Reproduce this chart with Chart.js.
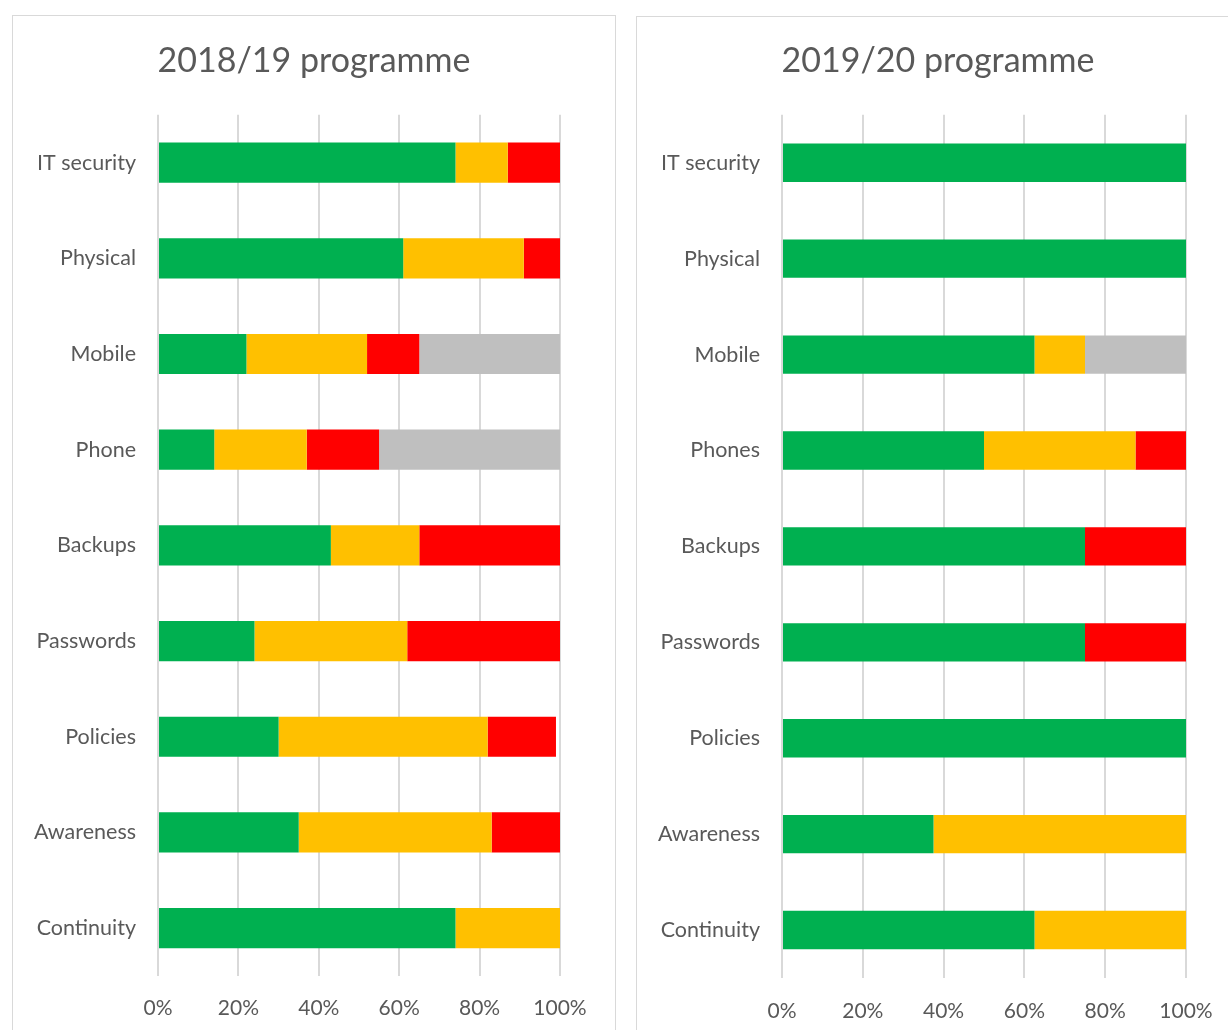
<!DOCTYPE html>
<html>
<head>
<meta charset="utf-8">
<script src="https://cdn.jsdelivr.net/npm/chart.js@4.4.1/dist/chart.umd.min.js"></script>
<style>
  body { margin: 0; background: #fff; overflow: hidden; width: 1228px; height: 1030px; position: relative; }
  .panel { position: absolute; border: 1px solid #d9d9d9; background: #fff; width: 602px; height: 1040px; }
  #left { left: 12px; top: 15px; }
  #right { left: 636px; top: 16px; }
  canvas { display: block; }
</style>
</head>
<body>
<div class="panel" id="left"><canvas id="chart1819" width="602" height="1014"></canvas></div>
<div class="panel" id="right"><canvas id="chart1920" width="602" height="1013"></canvas></div>
<script>
// categories
const labels1819 = ['IT security', 'Physical', 'Mobile', 'Phone', 'Backups', 'Passwords', 'Policies', 'Awareness', 'Continuity'];
const labels1920 = ['IT security', 'Physical', 'Mobile', 'Phones', 'Backups', 'Passwords', 'Policies', 'Awareness', 'Continuity'];

// 2018/19 shares (%)
const green1819 = [74, 61, 22, 14, 43, 24, 30, 35, 74];
const amber1819 = [13, 30, 30, 23, 22, 38, 52, 48, 26];
const red1819   = [13, 9, 13, 18, 35, 38, 17, 17, 0];
const grey1819  = [0, 0, 35, 45, 0, 0, 0, 0, 0];

// 2019/20 shares (%)
const green1920 = [100, 100, 62.5, 50, 75, 75, 100, 37.5, 62.5];
const amber1920 = [0, 0, 12.5, 37.5, 0, 0, 0, 62.5, 37.5];
const red1920   = [0, 0, 0, 12.5, 25, 25, 0, 0, 0];
const grey1920  = [0, 0, 25, 0, 0, 0, 0, 0, 0];

const xTicks = [0, 20, 40, 60, 80, 100];

const FONT = 'Lato, "Open Sans", sans-serif';
const TEXT = '#595959';

function makeChart(id, title, labels, green, amber, red, grey, opts) {
    const ctx = document.getElementById(id).getContext('2d');
    const ds = (data, color) => ({
        data: data,
        backgroundColor: color,
        borderWidth: 0,
        categoryPercentage: 1,
        barPercentage: opts.barPct
    });
    return new Chart(ctx, {
        type: 'bar',
        data: {
            labels: labels,
            datasets: [
                ds(green, '#00B050'),
                ds(amber, '#FFC000'),
                ds(red, '#FF0000'),
                ds(grey, '#BFBFBF')
            ]
        },
        options: {
            indexAxis: 'y',
            responsive: false,
            animation: false,
            devicePixelRatio: 1,
            layout: { padding: 0 },
            plugins: {
                legend: { display: false },
                tooltip: { enabled: false },
                title: {
                    display: true,
                    text: title,
                    color: TEXT,
                    font: { family: FONT, size: 34, weight: 'normal' },
                    padding: { top: opts.titleTop, bottom: opts.titleBottom }
                }
            },
            scales: {
                x: {
                    stacked: true,
                    min: 0,
                    max: 100,
                    afterBuildTicks: axis => { axis.ticks = xTicks.map(v => ({ value: v })); },
                    afterFit: axis => { axis.height = opts.xHeight; },
                    grid: { color: '#d9d9d9', lineWidth: 2, drawTicks: false },
                    border: { display: false },
                    ticks: {
                        color: TEXT,
                        padding: opts.xPad,
                        font: { family: FONT, size: 21 },
                        callback: v => v + '%'
                    }
                },
                y: {
                    stacked: true,
                    afterFit: axis => { axis.width = 145; },
                    grid: { display: false, drawTicks: false },
                    border: { display: false },
                    ticks: {
                        color: TEXT,
                        padding: 22,
                        font: { family: FONT, size: 21.5 }
                    }
                },
                // empty right-hand spacer so the title centres on the whole panel
                spacer: {
                    type: 'linear',
                    position: 'right',
                    afterFit: axis => { axis.width = opts.padRight; },
                    grid: { display: false, drawTicks: false },
                    border: { display: false },
                    ticks: { display: false }
                }
            }
        }
    });
}

makeChart('chart1819', '2018/19 programme', labels1819, green1819, amber1819, red1819, grey1819,
    { padRight: 55, titleTop: 25, titleBottom: 33, xHeight: 54, xPad: 20, barPct: 0.42 });
makeChart('chart1920', '2019/20 programme', labels1920, green1920, amber1920, red1920, grey1920,
    { padRight: 53, titleTop: 24, titleBottom: 33, xHeight: 52, xPad: 21, barPct: 0.40 });
</script>
</body>
</html>
